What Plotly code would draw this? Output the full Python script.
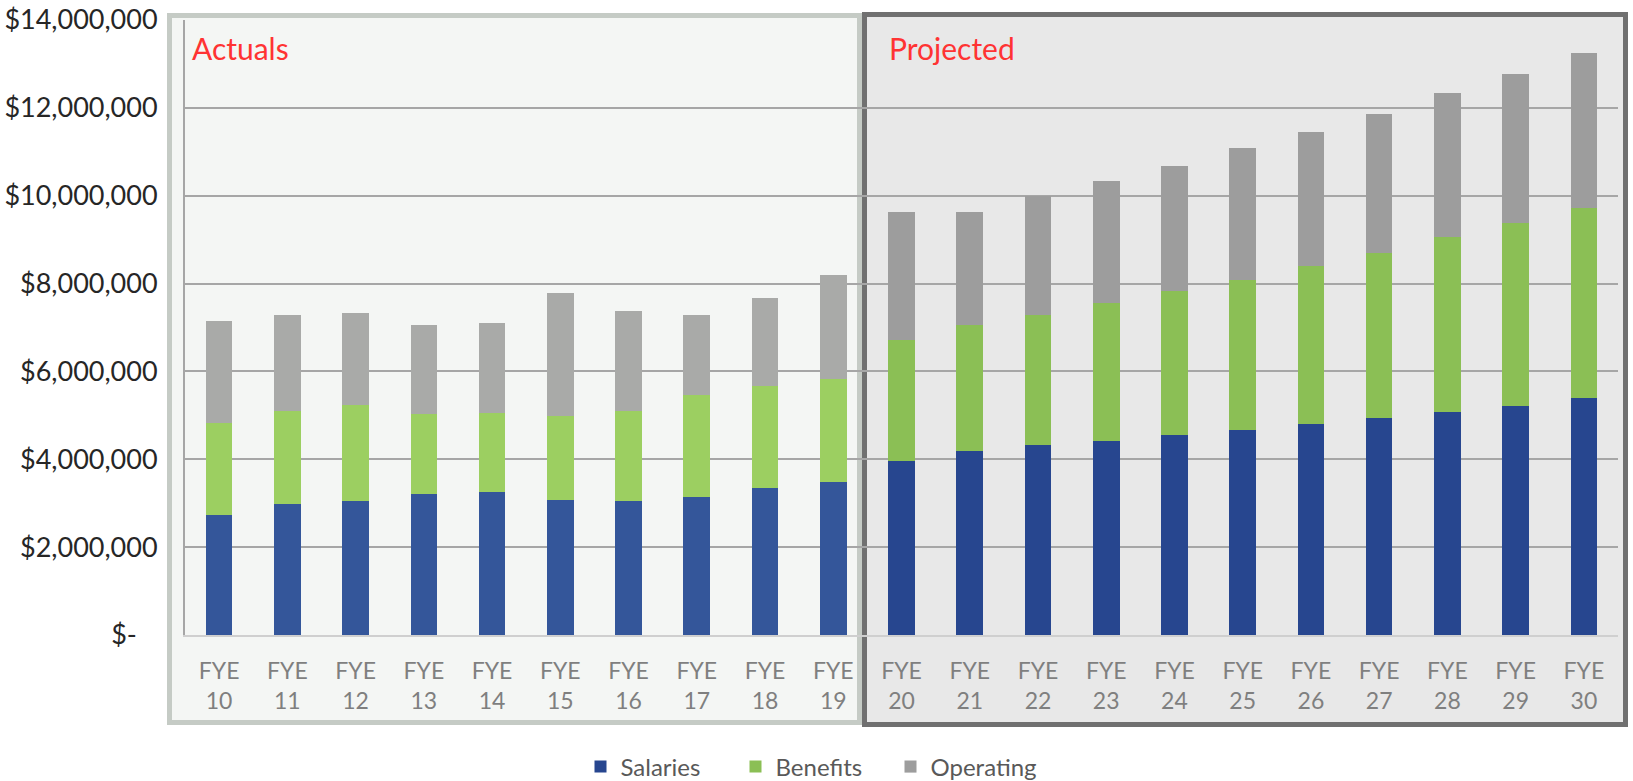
import plotly.graph_objects as go

categories = ["FYE<br>%d" % y for y in range(10, 31)]
# segment values in dollars (millions)
salaries = [2.74, 2.99, 3.05, 3.21, 3.25, 3.08, 3.05, 3.15, 3.35, 3.49,
            3.96, 4.19, 4.32, 4.42, 4.56, 4.66, 4.80, 4.94, 5.08, 5.22, 5.39]
benefits = [2.08, 2.11, 2.18, 1.82, 1.81, 1.91, 2.05, 2.31, 2.31, 2.34,
            2.75, 2.86, 2.97, 3.13, 3.26, 3.43, 3.59, 3.75, 3.97, 4.17, 4.33]
operating = [2.32, 2.19, 2.09, 2.02, 2.04, 2.79, 2.28, 1.83, 2.02, 2.36,
             2.93, 2.59, 2.71, 2.79, 2.86, 2.99, 3.07, 3.16, 3.28, 3.37, 3.53]
n_actual = 10
series_names = ["Salaries", "Benefits", "Operating"]
actual_colors = ["#34569a", "#9ccf61", "#a9aaa8"]
proj_colors = ["#27468f", "#8bbf55", "#9d9d9d"]
tick_vals = [0, 2e6, 4e6, 6e6, 8e6, 10e6, 12e6, 14e6]
tick_text = ["$-\u00a0\u00a0\u00a0", "$2,000,000", "$4,000,000", "$6,000,000", "$8,000,000",
             "$10,000,000", "$12,000,000", "$14,000,000"]

W, H = 1633, 781
L, R, T, B = 185, 15, 20, 146
pw, ph = W - L - R, H - T - B


def px_x(p):
    return (p - L) / pw


def px_y(p):
    return (H - B - p) / ph


fig = go.Figure()
for name, vals, ca, cp in zip(series_names, [salaries, benefits, operating], actual_colors, proj_colors):
    dollars = [v * 1e6 for v in vals]
    fig.add_trace(go.Bar(x=categories[:n_actual], y=dollars[:n_actual], name=name,
                         marker=dict(color=ca, line=dict(width=0)), legendgroup=name,
                         showlegend=False))
    fig.add_trace(go.Bar(x=categories[n_actual:], y=dollars[n_actual:], name=name,
                         marker=dict(color=cp, line=dict(width=0)), legendgroup=name,
                         showlegend=True))

font = "Lato, 'Open Sans', sans-serif"

fig.update_layout(
    width=W, height=H,
    margin=dict(l=L, r=R, t=T, b=B, autoexpand=False),
    barmode="stack", bargap=0.61,
    paper_bgcolor="white", plot_bgcolor="rgba(0,0,0,0)",
    font=dict(family=font, size=23, color="#333333"),
    showlegend=True,
    legend=dict(orientation="h", x=px_x(813), xanchor="center", y=px_y(767), yanchor="middle",
                font=dict(size=24, color="#595959"), traceorder="normal",
                itemwidth=30, entrywidth=110, entrywidthmode="pixels",
                bgcolor="rgba(0,0,0,0)"),
    xaxis=dict(type="category", categoryorder="array", categoryarray=categories,
               range=[-0.5, 20.5], showgrid=False, showline=True, linecolor="#cfcfcf",
               linewidth=2, ticks="outside", ticklen=14, tickcolor="rgba(0,0,0,0)",
               tickfont=dict(size=23, color="#7f7f7f"), fixedrange=True),
    yaxis=dict(range=[0, 14e6], tickvals=tick_vals, ticktext=tick_text,
               showgrid=True, gridcolor="#a6a6a6", gridwidth=2,
               showline=True, linecolor="#a6a6a6", linewidth=2, zeroline=False,
               ticks="outside", ticklen=20, tickcolor="rgba(0,0,0,0)",
               tickfont=dict(size=27, color="#262626")),
    shapes=[
        dict(type="rect", xref="paper", yref="paper", layer="below",
             x0=px_x(169.5), x1=px_x(859.5), y0=px_y(722.5), y1=px_y(15.5),
             fillcolor="#f4f6f4", line=dict(color="#c5cbc5", width=5)),
        dict(type="rect", xref="paper", yref="paper", layer="below",
             x0=px_x(864.5), x1=px_x(1625.5), y0=px_y(724.5), y1=px_y(14.5),
             fillcolor="#e8e8e8", line=dict(color="#707070", width=5)),
    ],
    annotations=[
        dict(text="Actuals", xref="paper", yref="paper", x=px_x(190), y=px_y(48),
             xanchor="left", yanchor="middle", showarrow=False,
             font=dict(size=30, color="#ff3333", family=font)),
        dict(text="Projected", xref="paper", yref="paper", x=px_x(887), y=px_y(48),
             xanchor="left", yanchor="middle", showarrow=False,
             font=dict(size=30, color="#ff3333", family=font)),
    ],
)

fig.write_html("out.html")
